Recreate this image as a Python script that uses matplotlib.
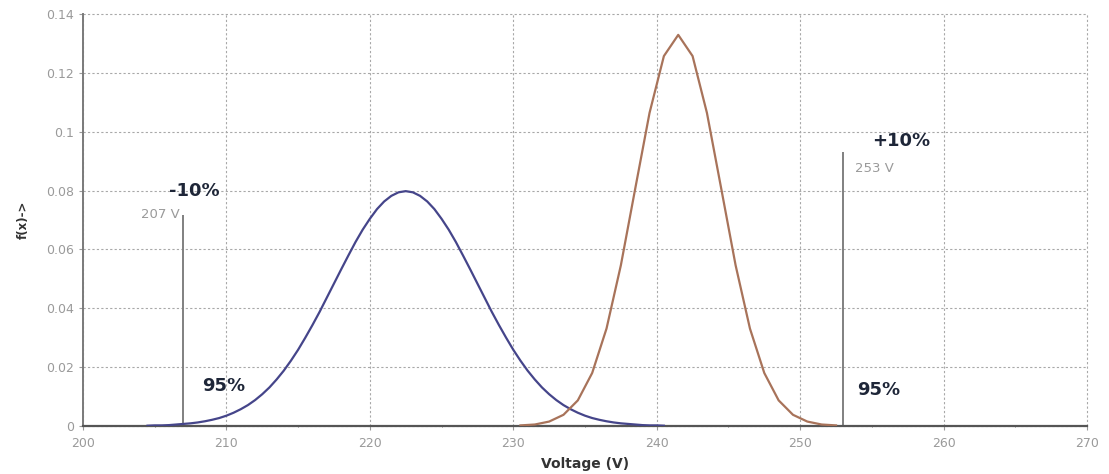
import matplotlib
matplotlib.use("Agg")
import matplotlib.pyplot as plt

# Gerilim dagilimlari (f(x))
volt_a = [204.5, 205.0, 205.5, 206.0, 206.5, 207.0, 207.5, 208.0, 208.5, 209.0,
          209.5, 210.0, 210.5, 211.0, 211.5, 212.0, 212.5, 213.0, 213.5, 214.0,
          214.5, 215.0, 215.5, 216.0, 216.5, 217.0, 217.5, 218.0, 218.5, 219.0,
          219.5, 220.0, 220.5, 221.0, 221.5, 222.0, 222.5, 223.0, 223.5, 224.0,
          224.5, 225.0, 225.5, 226.0, 226.5, 227.0, 227.5, 228.0, 228.5, 229.0,
          229.5, 230.0, 230.5, 231.0, 231.5, 232.0, 232.5, 233.0, 233.5, 234.0,
          234.5, 235.0, 235.5, 236.0, 236.5, 237.0, 237.5, 238.0, 238.5, 239.0,
          239.5, 240.0, 240.5]
fx_a = [0.0001, 0.0002, 0.0002, 0.0003, 0.0005, 0.0007, 0.0009, 0.0012, 0.0016,
        0.0021, 0.0027, 0.0035, 0.0045, 0.0057, 0.0071, 0.0088, 0.0108, 0.0131,
        0.0158, 0.0188, 0.0222, 0.0259, 0.0300, 0.0343, 0.0388, 0.0436, 0.0484,
        0.0532, 0.0579, 0.0625, 0.0667, 0.0704, 0.0737, 0.0763, 0.0782, 0.0794,
        0.0798,
        0.0794, 0.0782, 0.0763, 0.0737, 0.0704, 0.0667, 0.0625, 0.0579, 0.0532,
        0.0484, 0.0436, 0.0388, 0.0343, 0.0300, 0.0259, 0.0222, 0.0188, 0.0158,
        0.0131, 0.0108, 0.0088, 0.0071, 0.0057, 0.0045, 0.0035, 0.0027, 0.0021,
        0.0016, 0.0012, 0.0009, 0.0007, 0.0005, 0.0003, 0.0002, 0.0002, 0.0001]

volt_b = [230.5, 231.5, 232.5, 233.5, 234.5, 235.5, 236.5, 237.5, 238.5, 239.5,
          240.5, 241.5, 242.5, 243.5, 244.5, 245.5, 246.5, 247.5, 248.5, 249.5,
          250.5, 251.5, 252.5]
fx_b = [0.0002, 0.0005, 0.0015, 0.0038, 0.0087, 0.0180, 0.0331, 0.0546, 0.0806,
        0.1064, 0.1257, 0.1329, 0.1257, 0.1064, 0.0806, 0.0546, 0.0331, 0.0180,
        0.0087, 0.0038, 0.0015, 0.0005, 0.0002]

# Tolerans sinirlari (-10% / +10%)
limit_volts = [207, 253]
limit_tops = [0.0717, 0.0931]
limit_labels = ["207 V", "253 V"]
pct_labels = ["-10%", "+10%"]

x_ticks = [200, 210, 220, 230, 240, 250, 260, 270]
y_ticks = [0, 0.02, 0.04, 0.06, 0.08, 0.1, 0.12, 0.14]
y_tick_labels = ["0", "0.02", "0.04", "0.06", "0.08", "0.1", "0.12", "0.14"]

fig = plt.figure(figsize=(11.09, 4.74), dpi=100)
ax = fig.add_axes([0.0748, 0.1013, 0.9054, 0.8692])

ax.plot(volt_a, fx_a, color="#45458a", lw=1.6, zorder=3)
ax.plot(volt_b, fx_b, color="#a8735a", lw=1.6, zorder=3)

for v, top in zip(limit_volts, limit_tops):
    ax.vlines(v, 0, top, color="#808080", lw=1.4, zorder=2)

# etiketler
text_col = "#1e2638"
ax.text(206.75, limit_tops[0], limit_labels[0], ha="right", va="center",
        fontsize=9.5, color="#9a9a9a")
ax.text(253.8, 0.0876, limit_labels[1], ha="left", va="center",
        fontsize=9.5, color="#9a9a9a")
ax.text(206.0, 0.0800, pct_labels[0], ha="left", va="center", fontsize=13,
        fontweight="bold", color=text_col)
ax.text(255.0, 0.0968, pct_labels[1], ha="left", va="center", fontsize=13,
        fontweight="bold", color=text_col)
ax.text(208.3, 0.0137, "95%", ha="left", va="center", fontsize=13,
        fontweight="bold", color=text_col)
ax.text(254.0, 0.0123, "95%", ha="left", va="center", fontsize=13,
        fontweight="bold", color=text_col)

ax.set_xlim(200, 270)
ax.set_ylim(0, 0.14)
ax.set_xticks(x_ticks)
ax.set_xticks([205, 215, 225, 235, 245, 255, 265], minor=True)
ax.set_yticks(y_ticks)
ax.set_yticklabels(y_tick_labels)
ax.tick_params(labelsize=9, colors="#9a9a9a", length=3, width=0.8)
ax.tick_params(axis="x", which="minor", length=2, direction="inout", color="#666666")
ax.tick_params(axis="x", pad=5)

ax.grid(True, linestyle=(0, (2, 2)), color="#a8a8a8", lw=0.8)
for gl in ax.get_xgridlines() + ax.get_ygridlines():
    gl.set_clip_on(False)
ax.set_axisbelow(True)

for s in ["top", "right"]:
    ax.spines[s].set_visible(False)
ax.spines["left"].set_color("#7a7a7a")
ax.spines["left"].set_linewidth(1.4)
ax.spines["bottom"].set_color("#555555")
ax.spines["bottom"].set_linewidth(1.6)

ax.set_xlabel("Voltage (V)", fontsize=10, fontweight="bold", color="#333333", labelpad=5)
ax.set_ylabel("f(x)->", fontsize=8.5, fontweight="bold", color="#333333", labelpad=12)

fig.savefig("out.png", dpi=100)
